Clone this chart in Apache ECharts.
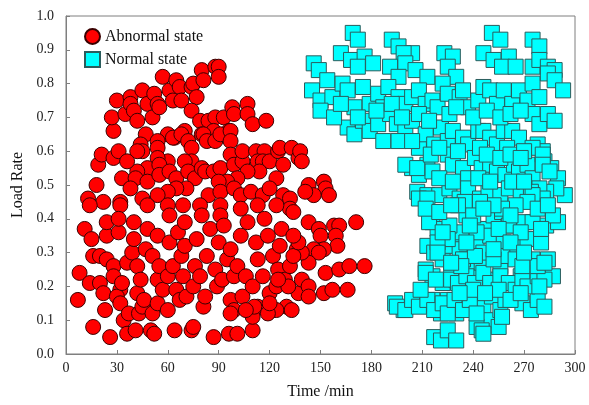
<!DOCTYPE html>
<html><head><meta charset="utf-8">
<script src="https://cdn.jsdelivr.net/npm/echarts@6/dist/echarts.min.js"></script>
<style>html,body{margin:0;padding:0;background:#fff}#c{width:589px;height:405px}</style>
</head><body><div id="c"></div>
<script>
const seriesNames = ['Abnormal state', 'Normal state'];
const xAxisName = 'Time /min';
const yAxisName = 'Load Rate';
const abnormalPoints = [
[13,0.46],[18,0.50],[19,0.56],[21,0.59],[28,0.58],[31,0.60],[28,0.66],[27,0.70],[30,0.75],[35,0.71],
[38,0.76],[38,0.74],[40,0.72],[42,0.69],[45,0.78],[48,0.74],[51,0.70],[52,0.77],[54,0.74],[55,0.73],
[57,0.82],[61,0.78],[63,0.75],[65,0.81],[67,0.79],[68,0.75],[74,0.79],[75,0.80],[77,0.76],[80,0.84],
[81,0.81],[88,0.85],[90,0.85],[90,0.82],[74,0.72],[79,0.69],[84,0.69],[88,0.70],[93,0.70],[98,0.73],
[99,0.71],[107,0.74],[107,0.71],[110,0.68],[118,0.69],[96,0.66],[87,0.66],[80,0.65],[70,0.66],[64,0.64],
[60,0.65],[47,0.65],[44,0.62],[45,0.60],[42,0.60],[54,0.63],[54,0.61],[63,0.64],[68,0.65],[72,0.63],
[74,0.61],[81,0.65],[83,0.63],[88,0.63],[91,0.65],[97,0.66],[97,0.63],[74,0.57],[70,0.57],[60,0.57],
[54,0.58],[48,0.55],[42,0.54],[36,0.57],[33,0.52],[41,0.52],[48,0.51],[55,0.56],[55,0.53],[61,0.54],
[65,0.52],[72,0.54],[76,0.52],[80,0.55],[82,0.54],[87,0.54],[91,0.55],[97,0.59],[99,0.56],[104,0.57],
[104,0.60],[112,0.60],[117,0.60],[113,0.57],[116,0.57],[120,0.57],[125,0.60],[126,0.61],[128,0.56],[133,0.61],
[137,0.58],[124,0.52],[114,0.54],[107,0.54],[101,0.52],[95,0.51],[90,0.51],[84,0.47],[91,0.48],[99,0.49],
[103,0.47],[109,0.48],[116,0.47],[120,0.49],[128,0.47],[132,0.46],[71,0.49],[65,0.49],[60,0.48],[54,0.47],
[45,0.46],[38,0.49],[32,0.45],[22,0.45],[138,0.60],[139,0.57],[143,0.50],[152,0.51],[153,0.49],[155,0.47],
[146,0.47],[141,0.48],[132,0.43],
[14,0.44],[32,0.44],[48,0.44],[60,0.44],[69,0.44],[79,0.44],[91,0.44],[103,0.43],[113,0.44],[124,0.44],
[8,0.24],[7,0.16],[11,0.37],[16,0.08],[14,0.21],[15,0.34],[16,0.29],[20,0.21],[20,0.29],[24,0.35],
[22,0.18],[23,0.13],[24,0.28],[24,0.39],[26,0.05],[28,0.26],[28,0.23],[31,0.36],[31,0.40],[32,0.19],
[30,0.17],[33,0.21],[32,0.15],[34,0.10],[36,0.06],[37,0.12],[36,0.27],[39,0.30],[40,0.34],[40,0.39],
[41,0.07],[42,0.18],[42,0.26],[43,0.12],[44,0.22],[45,0.14],[46,0.16],[47,0.31],[48,0.37],[50,0.07],
[51,0.12],[51,0.29],[52,0.06],[54,0.15],[54,0.22],[54,0.35],[55,0.26],[57,0.19],[60,0.13],[60,0.23],
[61,0.33],[61,0.41],[63,0.26],[64,0.07],[65,0.19],[66,0.36],[67,0.16],[68,0.29],[69,0.23],[70,0.32],
[70,0.39],[71,0.17],[74,0.07],[75,0.20],[76,0.26],[77,0.34],[79,0.23],[80,0.41],[81,0.14],[82,0.17],
[83,0.29],[85,0.37],[87,0.05],[88,0.25],[89,0.20],[90,0.33],[91,0.41],[92,0.22],[93,0.38],[95,0.28],
[96,0.06],[97,0.16],[97,0.31],[99,0.13],[99,0.23],[101,0.26],[101,0.06],[103,0.35],[104,0.17],[106,0.23],
[107,0.39],[110,0.07],[110,0.20],[112,0.33],[113,0.14],[113,0.28],[116,0.23],[117,0.40],[119,0.35],[120,0.18],
[122,0.13],[122,0.29],[124,0.20],[125,0.25],[126,0.32],[127,0.37],[129,0.22],[130,0.14],[132,0.26],[133,0.13],
[134,0.42],[136,0.31],[137,0.18],
[143,0.39],[149,0.37],[150,0.35],[158,0.38],[161,0.38],[171,0.39],[159,0.35],[160,0.32],[152,0.31],[146,0.31],
[149,0.30],[143,0.27],[139,0.30],[134,0.29],[137,0.33],[134,0.35],[153,0.24],[161,0.25],[167,0.26],[176,0.26],
[139,0.22],[131,0.20],[143,0.20],[143,0.17],[152,0.18],[157,0.19],[166,0.19],[125,0.22],[124,0.13],[119,0.12],
[120,0.15],[110,0.11],[111,0.14],[106,0.13],[97,0.12],[75,0.08]
];
const normalPoints = [
[169,0.95],[172,0.93],[192,0.93],[196,0.91],[204,0.89],[199,0.89],[251,0.95],[256,0.93],[275,0.93],[279,0.91],
[146,0.86],[149,0.84],[162,0.89],[168,0.87],[176,0.88],[172,0.85],[181,0.86],[191,0.85],[200,0.86],[196,0.82],
[206,0.84],[213,0.82],[223,0.89],[228,0.88],[225,0.85],[230,0.82],[246,0.89],[252,0.87],[261,0.88],[257,0.85],
[265,0.85],[275,0.85],[279,0.87],[284,0.85],[288,0.84],[145,0.78],[150,0.75],[154,0.81],[157,0.76],[163,0.80],
[166,0.78],[170,0.73],[175,0.79],[179,0.74],[184,0.77],[187,0.73],[190,0.79],[196,0.76],[200,0.74],[204,0.76],
[208,0.78],[212,0.74],[216,0.75],[219,0.73],[222,0.80],[225,0.77],[232,0.76],[234,0.78],[237,0.73],[243,0.75],
[246,0.79],[250,0.78],[254,0.74],[258,0.78],[263,0.74],[267,0.78],[272,0.75],[275,0.80],[279,0.76],[284,0.83],
[288,0.81],[293,0.78],[275,0.71],[279,0.68],[284,0.71],[288,0.69],[166,0.67],[170,0.65],[175,0.69],[179,0.66],
[184,0.68],[187,0.63],[191,0.71],[195,0.68],[200,0.66],[204,0.69],[208,0.61],[212,0.65],[217,0.62],[221,0.67],
[225,0.63],[228,0.66],[234,0.64],[237,0.62],[243,0.66],[246,0.66],[250,0.64],[254,0.62],[258,0.66],[263,0.66],
[267,0.64],[260,0.61],[278,0.62],[281,0.60],[282,0.57],[286,0.55],[290,0.52],[294,0.47],[289,0.49],[283,0.48],
[204,0.55],[208,0.53],[213,0.56],[216,0.54],[225,0.59],[228,0.56],[234,0.55],[237,0.52],[241,0.58],[245,0.55],
[250,0.56],[254,0.54],[259,0.53],[264,0.56],[267,0.54],[272,0.56],[275,0.52],[279,0.49],[207,0.48],[213,0.47],
[220,0.47],[226,0.49],[232,0.46],[237,0.49],[244,0.46],[249,0.48],[256,0.47],[261,0.49],[268,0.47],[274,0.48],
[216,0.39],[219,0.37],[213,0.32],[217,0.30],[222,0.28],[212,0.25],[216,0.23],[222,0.21],[230,0.22],[227,0.26],
[225,0.32],[231,0.35],[232,0.31],[236,0.28],[236,0.41],[239,0.25],[240,0.21],[242,0.33],[245,0.27],[246,0.30],
[247,0.37],[249,0.22],[250,0.35],[252,0.41],[256,0.26],[257,0.42],[258,0.33],[259,0.29],[262,0.21],[264,0.38],
[266,0.32],[268,0.23],[270,0.39],[272,0.34],[274,0.21],[275,0.28],[278,0.24],[280,0.33],[283,0.38],[284,0.28],
[287,0.23],[290,0.39],[194,0.15],[199,0.13],[205,0.15],[210,0.15],[216,0.16],[221,0.12],[225,0.16],[230,0.12],
[235,0.14],[239,0.15],[241,0.13],[244,0.09],[246,0.14],[250,0.10],[251,0.17],[256,0.13],[259,0.16],[269,0.15],
[274,0.13],[278,0.16],[282,0.14],[217,0.05],[221,0.04],[225,0.07],[230,0.04],[242,0.08],[245,0.07],[255,0.08],
[275,0.61],[281,0.59],[281,0.56],[285,0.54],[281,0.46],[275,0.47],[272,0.45],[265,0.44],[257,0.43],[252,0.44],
[244,0.45],[235,0.45],[231,0.44],[287,0.41],[275,0.39],[261,0.38],[242,0.36],[233,0.36],[226,0.38],[225,0.34],
[219,0.33],[200,0.56],[207,0.55],[208,0.46],[213,0.46],[214,0.39],
[195,0.14],[200,0.13],[204,0.16],[208,0.14],[213,0.16],[217,0.13],[222,0.15],[225,0.12],[229,0.16],[234,0.13],
[238,0.16],[242,0.12],[246,0.06],[257,0.11],[212,0.24],[218,0.22],[227,0.22],[231,0.21],[236,0.23],[241,0.21],
[246,0.24],[250,0.21],[256,0.23],[261,0.21],[265,0.19],[269,0.22],[272,0.20],[278,0.23],[282,0.22],[219,0.30],
[234,0.28],[241,0.29],[252,0.28],[265,0.28],[269,0.26],[278,0.26],[282,0.27],[233,0.26],[227,0.27],
[150,0.72],[158,0.70],[162,0.74],[172,0.70],[183,0.72],[192,0.74],[198,0.70],[208,0.71],[214,0.69],[226,0.71],
[230,0.73],[240,0.70],[248,0.72],[256,0.70],[262,0.71],[268,0.72],[196,0.63],[204,0.63],[215,0.59],[220,0.61],
[231,0.60],[244,0.61],[248,0.59],[256,0.58],[262,0.59],[270,0.60],[268,0.58],[220,0.52],[228,0.51],[243,0.52],
[250,0.51],[263,0.51],[270,0.51],[212,0.43],[220,0.42],[227,0.44],[240,0.41],[246,0.43],[262,0.41],[278,0.43],
[284,0.44],[222,0.36],[238,0.38],[255,0.37],[268,0.36],[280,0.37],[236,0.33],[262,0.33],[252,0.31],[270,0.30],
[240,0.19],[255,0.19],[232,0.18],[247,0.18],[279,0.20],[262,0.16],[268,0.18],[209,0.19]
];
const xMin = 0, xMax = 300, xStep = 30;
const yMin = 0, yMax = 1, yStep = 0.1;

const serif = '"Liberation Serif","DejaVu Serif",serif';
const chart = echarts.init(document.getElementById('c'));
chart.setOption({
  animation: false,
  grid: {left: 66, right: 14, top: 16, bottom: 45, show: true, borderColor: '#7f7f7f', borderWidth: 1},
  legend: {
    orient: 'vertical', left: 79, top: 23, itemGap: 6, itemWidth: 15, itemHeight: 15,
    textStyle: {fontFamily: serif, fontSize: 16, color: '#111'},
    data: [{name: seriesNames[0], icon: 'circle'}, {name: seriesNames[1], icon: 'rect'}]
  },
  xAxis: {
    type: 'value', min: xMin, max: xMax, interval: xStep,
    name: xAxisName, nameLocation: 'middle', nameGap: 30,
    nameTextStyle: {fontFamily: serif, fontSize: 16, color: '#111'},
    axisLine: {show: true, lineStyle: {color: '#7f7f7f'}},
    axisTick: {show: true, inside: true, length: 4, lineStyle: {color: '#7f7f7f'}},
    axisLabel: {fontFamily: serif, fontSize: 14, color: '#222', margin: 7},
    splitLine: {show: false}
  },
  yAxis: {
    type: 'value', min: yMin, max: yMax, interval: yStep,
    name: yAxisName, nameLocation: 'middle', nameGap: 40,
    nameTextStyle: {fontFamily: serif, fontSize: 16, color: '#111'},
    axisLine: {show: true, lineStyle: {color: '#7f7f7f'}},
    axisTick: {show: true, inside: true, length: 4, lineStyle: {color: '#7f7f7f'}},
    axisLabel: {fontFamily: serif, fontSize: 14, color: '#222', margin: 12, formatter: v => v.toFixed(1)},
    splitLine: {show: false}
  },
  series: [
    {name: seriesNames[0], type: 'scatter', symbol: 'circle', symbolSize: 15, data: abnormalPoints,
     itemStyle: {color: '#ff0000', borderColor: '#3a0000', borderWidth: 1, opacity: 1}},
    {name: seriesNames[1], type: 'scatter', symbol: 'rect', symbolSize: 15, data: normalPoints,
     itemStyle: {color: '#00ffff', borderColor: '#2b5c5c', borderWidth: 1, opacity: 1}}
  ]
});
</script></body></html>
